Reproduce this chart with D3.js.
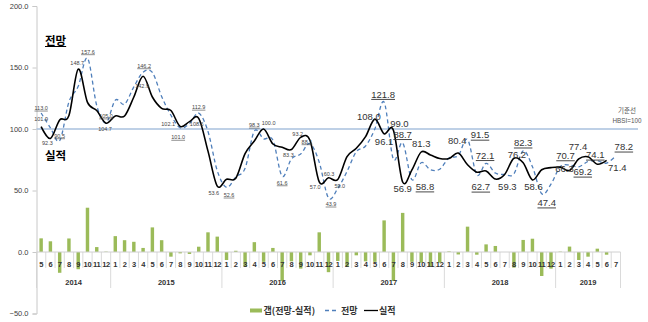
<!DOCTYPE html>
<html><head><meta charset="utf-8">
<script src="https://cdn.jsdelivr.net/npm/d3@7"></script>
<style>
html,body{margin:0;padding:0;background:#fff;}
svg{display:block;}
text{font-family:"Liberation Sans",Arial,sans-serif;}
.kr{font-family:"Noto Sans CJK KR","Noto Sans",sans-serif;}
</style></head>
<body>
<svg id="chart" width="648" height="322"></svg>
<script>
const categories = [
 "2014-05","2014-06","2014-07","2014-08","2014-09","2014-10","2014-11","2014-12",
 "2015-01","2015-02","2015-03","2015-04","2015-05","2015-06","2015-07","2015-08","2015-09","2015-10","2015-11","2015-12",
 "2016-01","2016-02","2016-03","2016-04","2016-05","2016-06","2016-07","2016-08","2016-09","2016-10","2016-11","2016-12",
 "2017-01","2017-02","2017-03","2017-04","2017-05","2017-06","2017-07","2017-08","2017-09","2017-10","2017-11","2017-12",
 "2018-01","2018-02","2018-03","2018-04","2018-05","2018-06","2018-07","2018-08","2018-09","2018-10","2018-11","2018-12",
 "2019-01","2019-02","2019-03","2019-04","2019-05","2019-06","2019-07"
];
// 전망 (forecast)
const forecast = [
 113.0,101.0,90.5,122.0,134.7,157.6,119.0,105.0,
 123.5,120.2,134.3,146.2,146.0,126.4,111.2,101.0,104.4,112.9,98.0,66.1,
 52.6,61.0,68.0,98.3,92.0,91.1,61.6,75.7,79.7,88.1,73.0,43.9,
 51.7,65.5,81.6,86.2,100.0,121.8,75.4,88.7,58.8,72.6,66.9,67.3,
 76.5,78.4,91.5,62.7,72.1,64.2,63.0,63.5,82.3,69.4,47.4,55.1,
 69.3,70.7,69.2,73.6,74.1,72.3,78.2
];
// 실적 (actual)
const actual = [
 101.9,92.3,107.4,111.0,148.7,121.6,115.0,104.7,
 110.6,110.6,126.0,142.9,126.0,116.8,115.0,102.1,106.0,108.6,82.0,53.6,
 59.1,60.0,80.0,90.3,100.0,87.8,85.2,83.3,93.2,90.8,57.0,60.3,
 59.0,77.5,84.3,93.8,108.0,96.1,99.0,56.9,66.8,81.3,78.9,76.0,
 76.0,80.4,70.9,64.9,65.9,59.3,63.0,76.2,72.5,58.6,66.9,68.6,
 69.0,66.3,75.7,77.4,71.4,74.5,null
];
const yTicks = [-50, 0, 50, 100, 150, 200];
const baseline = 100;
const seriesNames = ["갭(전망-실적)", "전망", "실적"];

// label placement config (series, index, offset in px, size class)
const labelSpecs = [
 {s:"f",i:0,dx:0,dy:-5,big:0},{s:"a",i:0,dx:0,dy:-7.5,big:0},{s:"a",i:1,dx:-3,dy:4.5,big:0},
 {s:"f",i:2,dx:0,dy:-5,big:0},{s:"a",i:4,dx:-1,dy:-6.5,big:0},{s:"f",i:5,dx:0.5,dy:-6.5,big:0},
 {s:"f",i:7,dx:0,dy:-7,big:0},{s:"a",i:7,dx:-1,dy:6,big:0},{s:"f",i:11,dx:1,dy:-6.5,big:0},
 {s:"a",i:11,dx:-1,dy:10,big:0},{s:"a",i:15,dx:-12,dy:-2,big:0},{s:"f",i:15,dx:-2,dy:9.5,big:0},
 {s:"a",i:17,dx:-2,dy:6,big:0},{s:"f",i:17,dx:0,dy:-6,big:0},{s:"a",i:19,dx:-3.5,dy:6.6,big:0},
 {s:"f",i:20,dx:2.5,dy:7.7,big:0},{s:"f",i:23,dx:0,dy:-6,big:0},{s:"a",i:24,dx:5,dy:-6.3,big:0},
 {s:"f",i:26,dx:0,dy:6.5,big:0},{s:"a",i:27,dx:-3,dy:5,big:0},{s:"a",i:28,dx:-3,dy:-3.5,big:0},
 {s:"f",i:29,dx:-3,dy:-2,big:0},{s:"a",i:30,dx:-4,dy:5.5,big:0},{s:"a",i:31,dx:0.5,dy:-4,big:0},
 {s:"f",i:31,dx:2.5,dy:6,big:0},{s:"a",i:32,dx:2,dy:6.5,big:0},
 {s:"a",i:36,dx:-6,dy:-3,big:1},{s:"f",i:37,dx:-1,dy:-8,big:1},{s:"a",i:37,dx:0,dy:8,big:1},
 {s:"a",i:38,dx:6,dy:-7,big:1},{s:"f",i:39,dx:0,dy:-8.6,big:1},{s:"a",i:39,dx:0,dy:6.3,big:1},
 {s:"f",i:40,dx:13,dy:7,big:1},{s:"a",i:41,dx:0,dy:-8.7,big:1},{s:"a",i:45,dx:-1,dy:-12.5,big:1},
 {s:"f",i:46,dx:12.5,dy:-4.5,big:1},{s:"f",i:47,dx:4,dy:12,big:1},{s:"f",i:48,dx:-1,dy:-8,big:1},
 {s:"a",i:49,dx:12,dy:7.5,big:1},{s:"a",i:51,dx:3,dy:-3.5,big:1},{s:"f",i:52,dx:0,dy:-8,big:1},
 {s:"a",i:53,dx:1,dy:7,big:1},{s:"f",i:54,dx:5,dy:9,big:1},{s:"f",i:57,dx:-4,dy:-9.5,big:1},
 {s:"a",i:57,dx:-5,dy:-2,big:1},{s:"f",i:58,dx:4,dy:5,big:1},{s:"a",i:59,dx:-10,dy:-10,big:1},
 {s:"f",i:60,dx:-2,dy:-6,big:1},{s:"a",i:60,dx:20,dy:3,big:1},{s:"f",i:62,dx:8,dy:-9,big:1}
];

const rows = categories.map((c,i)=>({
  c, i, f: forecast[i], a: actual[i],
  gap: (actual[i]==null) ? null : +(forecast[i]-actual[i]).toFixed(1),
  year: c.slice(0,4), month: String(+c.slice(5))
}));

const svg = d3.select("#chart");
const x = d3.scaleBand().domain(categories).range([36.5, 620.5]).paddingInner(0.63).paddingOuter(0.315);
const y = d3.scaleLinear().domain([-50, 200]).range([313.5, 6]);
const step = x.step(), bw = x.bandwidth();
const cx = c => x(c) + bw/2;

// y axis
const yAxis = svg.append("g").attr("transform","translate(36.5,0)")
  .call(d3.axisLeft(y).tickValues(yTicks).tickFormat(d3.format(".1f")).tickSize(4).tickPadding(4));
yAxis.select(".domain").attr("stroke","#c8c8c8");
yAxis.selectAll(".tick line").attr("stroke","#c8c8c8");
yAxis.selectAll(".tick text").attr("font-size",7.5).attr("fill","#404040")
  .attr("font-family","'Liberation Sans',Arial,sans-serif");

// baseline 100 reference
svg.append("line").attr("x1",36.5).attr("x2",638).attr("y1",y(baseline)).attr("y2",y(baseline))
  .attr("stroke","#a9c1de").attr("stroke-width",1.3);
svg.append("text").attr("class","kr").attr("x",627).attr("y",113).attr("text-anchor","middle")
  .attr("font-size",6.5).attr("fill","#555").text("기준선");
svg.append("text").attr("x",627).attr("y",122.5).attr("text-anchor","middle")
  .attr("font-size",6.3).attr("fill","#555").text("HBSI=100");

// bars
svg.append("g").selectAll("rect").data(rows.filter(d=>d.gap!=null)).join("rect")
  .attr("x",d=>x(d.c)).attr("width",bw)
  .attr("y",d=>y(Math.max(0,d.gap))).attr("height",d=>Math.abs(y(d.gap)-y(0)))
  .attr("fill","#9bbb59");

// category axis
const y0 = y(0);
svg.append("line").attr("x1",36.5).attr("x2",620.5).attr("y1",y0).attr("y2",y0).attr("stroke","#d0d0d0");
const tickG = svg.append("g");
rows.forEach((d,k)=>{
  const bx = cx(d.c) - step/2;
  const yearStart = k===0 || rows[k-1].year!==d.year;
  tickG.append("line").attr("x1",bx).attr("x2",bx).attr("y1",y0).attr("y2",yearStart?288:268)
    .attr("stroke","#d0d0d0").attr("stroke-width",0.8);
});
const lastBx = cx(categories[categories.length-1]) + step/2;
tickG.append("line").attr("x1",lastBx).attr("x2",lastBx).attr("y1",y0).attr("y2",288)
  .attr("stroke","#d0d0d0").attr("stroke-width",0.8);
svg.append("g").selectAll("text").data(rows).join("text")
  .attr("x",d=>cx(d.c)).attr("y",267).attr("text-anchor","middle")
  .attr("font-size",7.5).attr("font-weight","bold").attr("fill","#333")
  .attr("letter-spacing",-0.3).text(d=>d.month);
const years = d3.groups(rows, d=>d.year);
svg.append("g").selectAll("text").data(years).join("text")
  .attr("x",g=>(cx(g[1][0].c)+cx(g[1][g[1].length-1].c))/2).attr("y",285)
  .attr("text-anchor","middle").attr("font-size",7.5).attr("font-weight","bold").attr("fill","#333")
  .text(g=>g[0]);

// lines
const curve = d3.curveCardinal.tension(0);
const lineF = d3.line().x(d=>cx(d.c)).y(d=>y(d.f)).curve(curve);
const lineA = d3.line().defined(d=>d.a!=null).x(d=>cx(d.c)).y(d=>y(d.a)).curve(curve);
svg.append("path").datum(rows).attr("d",lineF).attr("fill","none")
  .attr("stroke","#4f7fbb").attr("stroke-width",1.3).attr("stroke-dasharray","4,3");
svg.append("path").datum(rows.filter(d=>d.a!=null)).attr("d",lineA).attr("fill","none")
  .attr("stroke","#000").attr("stroke-width",1.6);

// data labels
const fmt = d3.format(".1f");
const lblG = svg.append("g");
labelSpecs.forEach(L=>{
  const d = rows[L.i];
  const v = L.s==="f" ? d.f : d.a;
  const px = cx(d.c)+L.dx, py = y(v)+L.dy;
  const fs = L.big ? 9.5 : 5.5;
  const t = lblG.append("text").attr("x",px).attr("y",py).attr("text-anchor","middle")
    .attr("dominant-baseline","central").attr("font-size",fs)
    .attr("fill", L.big ? "#333" : "#444").text(fmt(v));
  if (L.s==="f") {
    const w = t.node().getComputedTextLength();
    lblG.append("line").attr("x1",px-w/2).attr("x2",px+w/2)
      .attr("y1",py+fs*0.55).attr("y2",py+fs*0.55)
      .attr("stroke", L.big ? "#333" : "#444").attr("stroke-width", L.big?0.9:0.6);
  }
});

// series annotations
const t1 = svg.append("text").attr("class","kr").attr("x",45).attr("y",44.5)
  .attr("font-size",11.5).attr("font-weight","bold").attr("fill","#000").text(seriesNames[1]);
const w1 = t1.node().getComputedTextLength();
svg.append("line").attr("x1",45).attr("x2",45+w1).attr("y1",46.5).attr("y2",46.5).attr("stroke","#000").attr("stroke-width",1);
svg.append("text").attr("class","kr").attr("x",45).attr("y",159.5)
  .attr("font-size",11.5).attr("font-weight","bold").attr("fill","#000").text(seriesNames[2]);

// legend
const lg = svg.append("g");
lg.append("rect").attr("x",250).attr("y",308.5).attr("width",12).attr("height",4).attr("fill","#9bbb59");
lg.append("text").attr("class","kr").attr("x",263.5).attr("y",314).attr("font-size",9).attr("font-weight","bold").attr("fill","#333").text(seriesNames[0]);
lg.append("line").attr("x1",325).attr("x2",337).attr("y1",310.5).attr("y2",310.5)
  .attr("stroke","#4f7fbb").attr("stroke-width",1.3).attr("stroke-dasharray","4,3");
lg.append("text").attr("class","kr").attr("x",341).attr("y",314).attr("font-size",9).attr("font-weight","bold").attr("fill","#333").text(seriesNames[1]);
lg.append("line").attr("x1",364).attr("x2",378).attr("y1",310.5).attr("y2",310.5)
  .attr("stroke","#000").attr("stroke-width",1.3);
lg.append("text").attr("class","kr").attr("x",379).attr("y",314).attr("font-size",9).attr("font-weight","bold").attr("fill","#333").text(seriesNames[2]);
</script>
</body></html>
